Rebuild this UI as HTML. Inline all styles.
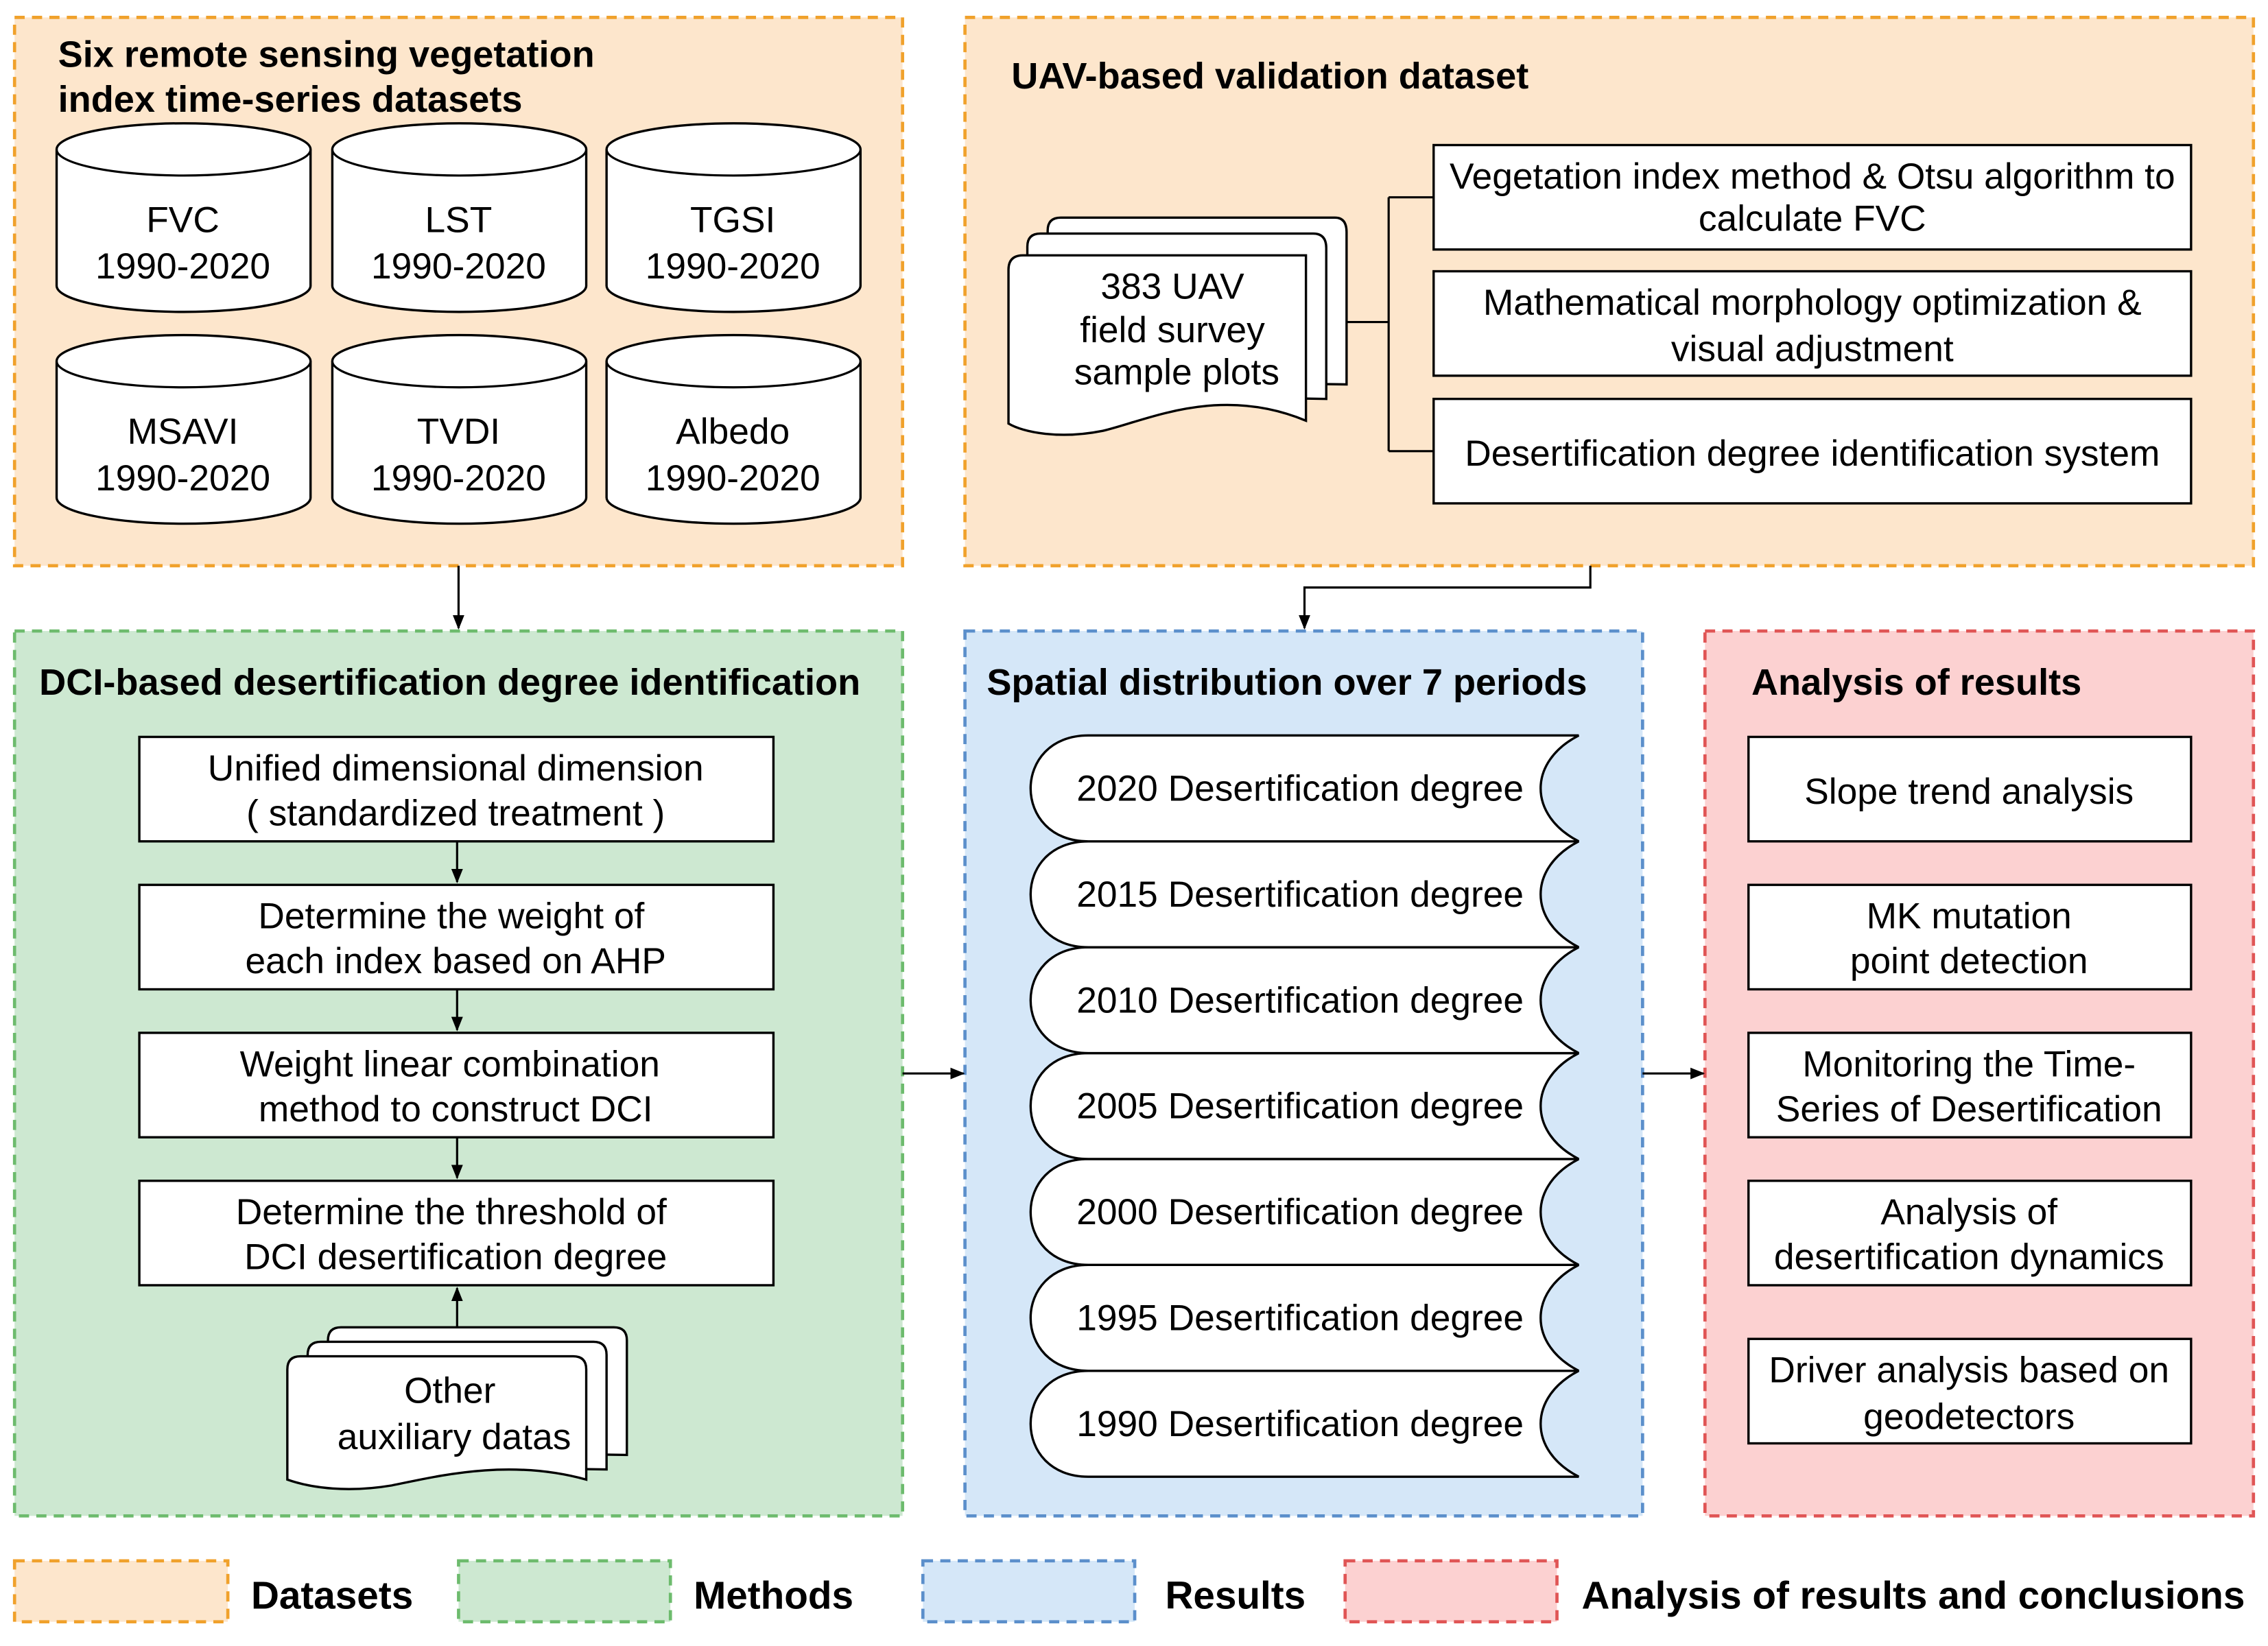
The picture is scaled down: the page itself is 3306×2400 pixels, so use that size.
<!DOCTYPE html>
<html><head><meta charset="utf-8"><style>
html,body{margin:0;padding:0;background:#fff;}
svg{display:block;}
text{font-family:"Liberation Sans",sans-serif;fill:#000;}
.t{font-size:25.2px;text-anchor:middle;}
.h{font-size:25.6px;font-weight:bold;}
.s{fill:#fff;stroke:#000;stroke-width:1.6;}
.l{stroke:#000;stroke-width:1.5;fill:none;}
</style></head><body>
<svg width="3306" height="2400" viewBox="0 0 1563 1134.7" xmlns="http://www.w3.org/2000/svg">
<defs>
<marker id="a" markerWidth="10" markerHeight="10" refX="9" refY="5" orient="auto" markerUnits="userSpaceOnUse">
<path d="M0,1 L10,5 L0,9 Z" fill="#000"/></marker>
<g id="cyl">
<path class="s" d="M0,18 A87.5,18 0 0 1 175,18 L175,112 A87.5,18 0 0 1 0,112 Z"/>
<path class="l" d="M0,18 A87.5,18 0 0 0 175,18"/>
</g>
<path id="tape" class="s" d="M40,0 L378,0 C343,18 343,55 378,73 L40,73 C-13,73 -13,0 40,0 Z"/>
</defs>
<rect width="1563" height="1135" fill="#fff"/>
<rect x="10" y="12" width="612" height="378" fill="#fde6cc" stroke="#f0a12b" stroke-width="2.2" stroke-dasharray="7,5"/>
<rect x="665" y="12" width="888" height="378" fill="#fde6cc" stroke="#f0a12b" stroke-width="2.2" stroke-dasharray="7,5"/>
<rect x="10" y="435" width="612" height="610" fill="#cde8d1" stroke="#6dbb6d" stroke-width="2.2" stroke-dasharray="7,5"/>
<rect x="665" y="435" width="467" height="610" fill="#d5e7f8" stroke="#5b8fcb" stroke-width="2.2" stroke-dasharray="7,5"/>
<rect x="1175" y="435" width="378" height="610" fill="#fcd1d1" stroke="#e05555" stroke-width="2.2" stroke-dasharray="7,5"/>
<text class="h" x="40" y="46">Six remote sensing vegetation</text>
<text class="h" x="40" y="77">index time-series datasets</text>
<text class="h" x="697" y="61">UAV-based validation dataset</text>
<text class="h" x="27" y="479">DCI-based desertification degree identification</text>
<text class="h" x="680" y="479">Spatial distribution over 7 periods</text>
<text class="h" x="1207" y="479">Analysis of results</text>
<use href="#cyl" x="39" y="85"/><use href="#cyl" x="229" y="85"/><use href="#cyl" x="418" y="85"/>
<use href="#cyl" x="39" y="231"/><use href="#cyl" x="229" y="231"/><use href="#cyl" x="418" y="231"/>
<text class="t" x="126" y="160">FVC</text><text class="t" x="126" y="192">1990-2020</text>
<text class="t" x="316" y="160">LST</text><text class="t" x="316" y="192">1990-2020</text>
<text class="t" x="505" y="160">TGSI</text><text class="t" x="505" y="192">1990-2020</text>
<text class="t" x="126" y="306">MSAVI</text><text class="t" x="126" y="338">1990-2020</text>
<text class="t" x="316" y="306">TVDI</text><text class="t" x="316" y="338">1990-2020</text>
<text class="t" x="505" y="306">Albedo</text><text class="t" x="505" y="338">1990-2020</text>
<path class="s" d="M722,262 L722,159 Q722,150 731,150 L920,150 Q928,150 928,160 L928,265 Z"/>
<path class="s" d="M708,272 L708,170 Q708,161 717,161 L905,161 Q914,161 914,171 L914,275 Z"/>
<path class="s" d="M695,292 L695,186 Q695,176 705,176 L900,176 Q900,176 900,186 L900,290 C840,265 790,290 760,297 C730,303 705,298 695,292 Z"/>
<text class="t" x="808" y="206">383 UAV</text>
<text class="t" x="808" y="236">field survey</text>
<text class="t" x="811" y="265">sample plots</text>
<path class="l" d="M928,222 L957,222 M957,136 L957,311 M957,136 L988,136 M957,311 L988,311"/>
<rect class="s" x="988" y="100" width="522" height="72"/>
<rect class="s" x="988" y="187" width="522" height="72"/>
<rect class="s" x="988" y="275" width="522" height="72"/>
<text class="t" x="1249" y="130">Vegetation index method &amp; Otsu algorithm to</text>
<text class="t" x="1249" y="159">calculate FVC</text>
<text class="t" x="1249" y="217">Mathematical morphology optimization &amp;</text>
<text class="t" x="1249" y="249">visual adjustment</text>
<text class="t" x="1249" y="321">Desertification degree identification system</text>
<path class="l" d="M316,390 L316,433" marker-end="url(#a)"/>
<path class="l" d="M1096,390 L1096,405 L899,405 L899,433" marker-end="url(#a)"/>
<path class="l" d="M622,740 L664,740" marker-end="url(#a)"/>
<path class="l" d="M1132,740 L1174,740" marker-end="url(#a)"/>
<rect class="s" x="96" y="508" width="437" height="72"/>
<rect class="s" x="96" y="610" width="437" height="72"/>
<rect class="s" x="96" y="712" width="437" height="72"/>
<rect class="s" x="96" y="814" width="437" height="72"/>
<text class="t" x="314" y="538">Unified dimensional dimension</text>
<text class="t" x="314" y="569">( standardized treatment )</text>
<text class="t" x="311" y="640">Determine the weight of</text>
<text class="t" x="314" y="671">each index based on AHP</text>
<text class="t" x="310" y="742">Weight linear combination</text>
<text class="t" x="314" y="773">method to construct DCI</text>
<text class="t" x="311" y="844">Determine the threshold of</text>
<text class="t" x="314" y="875">DCI desertification degree</text>
<path class="l" d="M315,580 L315,608" marker-end="url(#a)"/>
<path class="l" d="M315,682 L315,710" marker-end="url(#a)"/>
<path class="l" d="M315,784 L315,812" marker-end="url(#a)"/>
<path class="l" d="M315,915 L315,888" marker-end="url(#a)"/>
<path class="s" d="M226,1000 L226,924 Q226,915 235,915 L423,915 Q432,915 432,924 L432,1003 Z"/>
<path class="s" d="M212,1010 L212,934 Q212,925 221,925 L409,925 Q418,925 418,934 L418,1013 Z"/>
<path class="s" d="M198,1020 L198,944 Q198,935 207,935 L395,935 Q404,935 404,944 L404,1020 C350,1005 300,1018 270,1024 C240,1029 215,1026 198,1020 Z"/>
<text class="t" x="310" y="967">Other</text>
<text class="t" x="313" y="999">auxiliary datas</text>
<use href="#tape" x="710" y="945"/>
<use href="#tape" x="710" y="872"/>
<use href="#tape" x="710" y="799"/>
<use href="#tape" x="710" y="726"/>
<use href="#tape" x="710" y="653"/>
<use href="#tape" x="710" y="580"/>
<use href="#tape" x="710" y="507"/>
<text class="t" x="896" y="552">2020 Desertification degree</text>
<text class="t" x="896" y="625">2015 Desertification degree</text>
<text class="t" x="896" y="698">2010 Desertification degree</text>
<text class="t" x="896" y="771">2005 Desertification degree</text>
<text class="t" x="896" y="844">2000 Desertification degree</text>
<text class="t" x="896" y="917">1995 Desertification degree</text>
<text class="t" x="896" y="990">1990 Desertification degree</text>
<rect class="s" x="1205" y="508" width="305" height="72"/>
<rect class="s" x="1205" y="610" width="305" height="72"/>
<rect class="s" x="1205" y="712" width="305" height="72"/>
<rect class="s" x="1205" y="814" width="305" height="72"/>
<rect class="s" x="1205" y="923" width="305" height="72"/>
<text class="t" x="1357" y="554">Slope trend analysis</text>
<text class="t" x="1357" y="640">MK mutation</text>
<text class="t" x="1357" y="671">point detection</text>
<text class="t" x="1357" y="742">Monitoring the Time-</text>
<text class="t" x="1357" y="773">Series of Desertification</text>
<text class="t" x="1357" y="844">Analysis of</text>
<text class="t" x="1357" y="875">desertification dynamics</text>
<text class="t" x="1357" y="953">Driver analysis based on</text>
<text class="t" x="1357" y="985">geodetectors</text>
<rect x="10" y="1076" width="147" height="42" fill="#fde6cc" stroke="#f0a12b" stroke-width="2.2" stroke-dasharray="7,5"/>
<rect x="316" y="1076" width="146" height="42" fill="#cde8d1" stroke="#6dbb6d" stroke-width="2.2" stroke-dasharray="7,5"/>
<rect x="636" y="1076" width="146" height="42" fill="#d5e7f8" stroke="#5b8fcb" stroke-width="2.2" stroke-dasharray="7,5"/>
<rect x="927" y="1076" width="146" height="42" fill="#fcd1d1" stroke="#e05555" stroke-width="2.2" stroke-dasharray="7,5"/>
<text class="h" x="173" y="1109" style="font-size:26.8px">Datasets</text>
<text class="h" x="478" y="1109" style="font-size:26.8px">Methods</text>
<text class="h" x="803" y="1109" style="font-size:26.8px">Results</text>
<text class="h" x="1090" y="1109" style="font-size:26.8px">Analysis of results and conclusions</text>
</svg>
</body></html>
